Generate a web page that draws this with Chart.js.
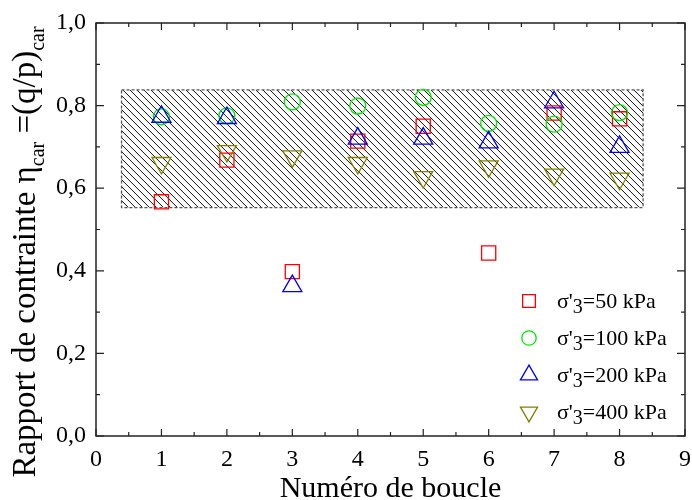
<!DOCTYPE html>
<html>
<head>
<meta charset="utf-8">
<script src="https://cdn.jsdelivr.net/npm/chart.js@4.4.1/dist/chart.umd.min.js"></script>
<style>
  html, body { margin: 0; padding: 0; background: #fff; }
  #wrap { width: 692px; height: 500px; }
</style>
</head>
<body>
<div id="wrap"><canvas id="chart"></canvas></div>
<script>
// loop number (x) and characteristic stress ratio per confining pressure
const boucles = [1, 2, 3, 4, 5, 6, 7, 8];
const eta50  = [0.567, 0.668, 0.398, 0.714, 0.750, 0.443, 0.782, 0.768];
const eta100 = [0.773, 0.775, 0.809, 0.799, 0.820, 0.757, 0.755, 0.783];
const eta200 = [0.773, 0.770, 0.363, 0.720, 0.720, 0.711, 0.808, 0.700];
const eta400 = [0.661, 0.690, 0.677, 0.661, 0.627, 0.653, 0.633, 0.623];
const seriesNames = ['=50 kPa', '=100 kPa', '=200 kPa', '=400 kPa'];

// hatched band (range of the characteristic state)
const bandX = [0.39, 8.36];
const bandY = [0.553, 0.838];

const FONT = "'Liberation Serif', 'Times New Roman', serif";

function pts(ys) {
  return boucles.map((x, i) => ({ x: x, y: ys[i] }));
}

const styles = [
  { color: '#ff0000', pointStyle: 'rect', radius: 10, rotation: 0 },
  { color: '#00e600', pointStyle: 'circle', radius: 8, rotation: 0 },
  { color: '#0000ff', pointStyle: 'triangle', radius: 11, rotation: 0 },
  { color: '#808000', pointStyle: 'triangle', radius: 11, rotation: 180 }
];

const allSeries = [eta50, eta100, eta200, eta400];
const datasets = allSeries.map((ys, i) => ({
  label: 'σ\'3' + seriesNames[i],
  data: pts(ys),
  showLine: false,
  pointStyle: styles[i].pointStyle,
  pointRotation: styles[i].rotation,
  pointRadius: styles[i].radius,
  pointHoverRadius: styles[i].radius,
  pointBorderColor: styles[i].color,
  pointBackgroundColor: 'rgba(0,0,0,0)',
  pointBorderWidth: 1.3,
  order: 4 - i
}));

function drawMarker(ctx, st, x, y, r) {
  ctx.save();
  ctx.strokeStyle = st.color;
  ctx.lineWidth = 1.3;
  ctx.beginPath();
  if (st.pointStyle === 'rect') {
    const s = r * Math.SQRT1_2;
    ctx.rect(x - s, y - s, 2 * s, 2 * s);
  } else if (st.pointStyle === 'circle') {
    ctx.arc(x, y, r, 0, Math.PI * 2);
  } else {
    const dir = st.rotation ? -1 : 1;
    ctx.moveTo(x, y - dir * r);
    ctx.lineTo(x + r * 0.866, y + dir * r / 2);
    ctx.lineTo(x - r * 0.866, y + dir * r / 2);
    ctx.closePath();
  }
  ctx.stroke();
  ctx.restore();
}

// draws a run of [text, size, shift] pieces starting at x
function drawRuns(ctx, runs, x, y) {
  runs.forEach(r => {
    ctx.font = r[1] + 'px ' + FONT;
    ctx.fillText(r[0], x, y + r[2]);
    x += ctx.measureText(r[0]).width;
  });
}
function runsWidth(ctx, runs) {
  let w = 0;
  runs.forEach(r => {
    ctx.font = r[1] + 'px ' + FONT;
    w += ctx.measureText(r[0]).width;
  });
  return w;
}

const decor = {
  id: 'decor',
  beforeDatasetsDraw(chart) {
    const { ctx, scales: { x, y } } = chart;
    const x0 = x.getPixelForValue(bandX[0]), x1 = x.getPixelForValue(bandX[1]);
    const y0 = y.getPixelForValue(bandY[1]), y1 = y.getPixelForValue(bandY[0]);
    const h = y1 - y0;
    ctx.save();
    ctx.beginPath();
    ctx.rect(x0, y0, x1 - x0, h);
    ctx.clip();
    ctx.beginPath();
    ctx.strokeStyle = '#111';
    ctx.lineWidth = 1;
    for (let k = x0 - h; k < x1; k += 7) {
      ctx.moveTo(k, y0);
      ctx.lineTo(k + h, y1);
    }
    ctx.stroke();
    ctx.restore();

    ctx.save();
    ctx.setLineDash([3, 2]);
    ctx.strokeStyle = '#555';
    ctx.lineWidth = 1.3;
    ctx.strokeRect(x0, y0, x1 - x0, h);
    ctx.restore();
  },
  afterDraw(chart) {
    const { ctx, chartArea: a, scales: { x, y } } = chart;
    ctx.save();
    // frame
    ctx.strokeStyle = '#222';
    ctx.lineWidth = 1.5;
    ctx.strokeRect(a.left, a.top, a.right - a.left, a.bottom - a.top);

    // inward ticks on all four sides
    ctx.beginPath();
    ctx.lineWidth = 1.2;
    for (let i = 0; i <= 18; i++) {
      const px = x.getPixelForValue(i / 2);
      const len = i % 2 === 0 ? 7 : 4;
      ctx.moveTo(px, a.bottom); ctx.lineTo(px, a.bottom - len);
      ctx.moveTo(px, a.top); ctx.lineTo(px, a.top + len);
    }
    for (let i = 0; i <= 10; i++) {
      const py = y.getPixelForValue(i / 10);
      const len = i % 2 === 0 ? 8 : 4;
      ctx.moveTo(a.left, py); ctx.lineTo(a.left + len, py);
      ctx.moveTo(a.right, py); ctx.lineTo(a.right - len, py);
    }
    ctx.stroke();

    ctx.fillStyle = '#000';
    ctx.textBaseline = 'alphabetic';

    // x title
    ctx.font = '30px ' + FONT;
    ctx.textAlign = 'center';
    ctx.fillText('Numéro de boucle', (a.left + a.right) / 2, 497);

    // y title with subscripts
    ctx.textAlign = 'left';
    const yRuns = [['Rapport de contrainte η', 33, 0], ['car', 20, 9], [' =(q/p)', 33, 0], ['car', 20, 9]];
    const w = runsWidth(ctx, yRuns);
    ctx.save();
    ctx.translate(35, 252);
    ctx.rotate(-Math.PI / 2);
    drawRuns(ctx, yRuns, -w / 2, 0);
    ctx.restore();

    // legend
    const legY = [301, 338, 375, 412];
    datasets.forEach((d, i) => {
      drawMarker(ctx, styles[i], 529, legY[i], styles[i].radius * 0.9);
      ctx.fillStyle = '#000';
      drawRuns(ctx, [['σ\'', 22, 0], ['3', 20, 5], [seriesNames[i], 22, 0]], 557, legY[i] + 7);
    });
    ctx.restore();
  }
};

new Chart(document.getElementById('chart'), {
  type: 'scatter',
  data: { datasets: datasets },
  options: {
    responsive: true,
    maintainAspectRatio: false,
    animation: false,
    layout: { autoPadding: false, padding: { top: 23, right: 7, left: 0, bottom: 0 } },
    plugins: { legend: { display: false }, tooltip: { enabled: false } },
    scales: {
      x: {
        type: 'linear',
        min: 0, max: 9,
        grid: { display: false, drawTicks: false },
        border: { display: false },
        ticks: { stepSize: 1, padding: 9, color: '#000', font: { family: FONT, size: 24 } },
        afterFit: s => { s.height = 64; s.paddingLeft = 0; s.paddingRight = 0; }
      },
      y: {
        min: 0, max: 1,
        grid: { display: false, drawTicks: false },
        border: { display: false },
        ticks: {
          stepSize: 0.2, padding: 10, color: '#000',
          font: { family: FONT, size: 24 },
          callback: v => v.toFixed(1).replace('.', ',')
        },
        afterFit: s => { s.width = 96; s.paddingTop = 0; s.paddingBottom = 0; }
      }
    }
  },
  plugins: [decor]
});
</script>
</body>
</html>
